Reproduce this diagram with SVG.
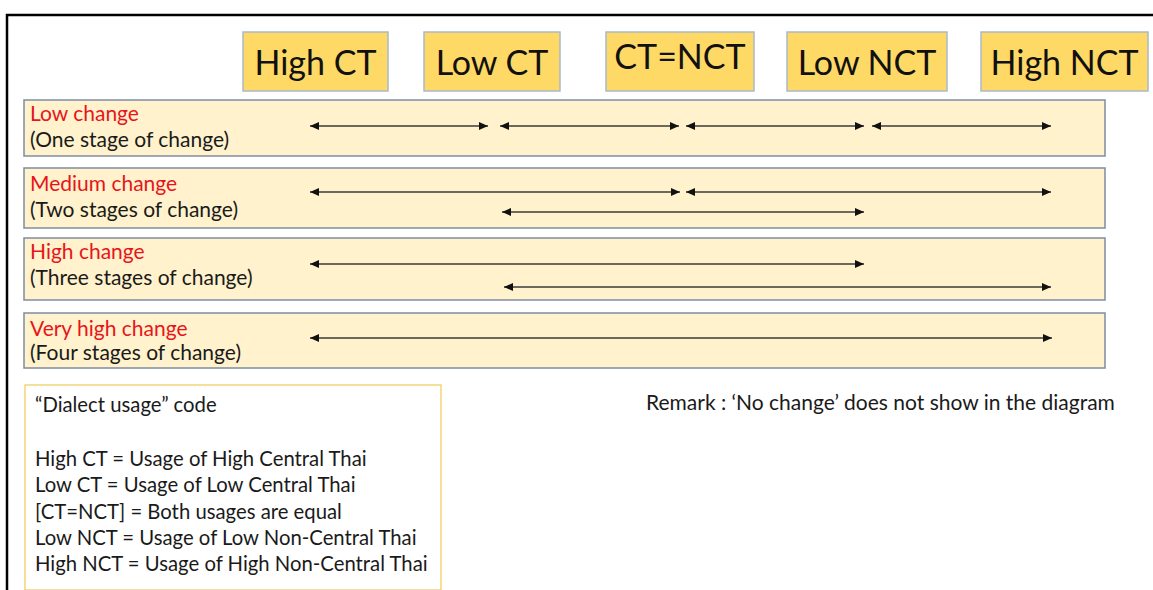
<svg xmlns="http://www.w3.org/2000/svg" width="1153" height="590" viewBox="0 0 1153 590">
  <style>
    .hdr rect { fill: #FFD966; stroke: #A9B9CC; stroke-width: 1.5; }
    .hdr text { font-family: Lato, "Liberation Sans", sans-serif; font-size: 34px; fill: #111; text-anchor: middle; }
    .band rect { fill: #FFF2CC; stroke: #7D8CA3; stroke-width: 1.5; }
    .band text { font-family: Lato, "Liberation Sans", sans-serif; font-size: 21px; fill: #1a1a1a; }
    .band text.lvl { fill: #E8141B; }
    .arrows line { stroke: #3a3a3a; stroke-width: 1.4; marker-start: url(#head-start); marker-end: url(#head-end); }
    .legend rect { fill: #ffffff; stroke: #EFCB55; stroke-width: 1.2; }
    .legend text { font-family: Lato, "Liberation Sans", sans-serif; font-size: 20.3px; fill: #1a1a1a; }
    .remark text { font-family: Lato, "Liberation Sans", sans-serif; font-size: 21px; fill: #1a1a1a; }
  </style>
  <defs>
    <marker id="head-end" markerUnits="userSpaceOnUse" markerWidth="10" markerHeight="8" refX="9" refY="4" orient="auto">
      <path d="M0,0 L9,4 L0,8 Z" fill="#111"/>
    </marker>
    <marker id="head-start" markerUnits="userSpaceOnUse" markerWidth="10" markerHeight="8" refX="0" refY="4" orient="auto">
      <path d="M9,0 L0,4 L9,8 Z" fill="#111"/>
    </marker>
  </defs>

  <rect x="0" y="0" width="1153" height="590" fill="#ffffff"/>
  <!-- page frame -->
  <path d="M7,590 L7,15 L1153,15" fill="none" stroke="#000" stroke-width="2.5"/>

  <!-- column headers -->
  <g id="high-ct" class="hdr"><rect x="243" y="32" width="145" height="59"/><text x="315.5" y="75">High CT</text></g>
  <g id="low-ct" class="hdr"><rect x="424" y="32" width="136" height="59"/><text x="492" y="75">Low CT</text></g>
  <g id="ct-nct" class="hdr"><rect x="606" y="32" width="148" height="59"/><text x="680" y="69">CT=NCT</text></g>
  <g id="low-nct" class="hdr"><rect x="787" y="32" width="160" height="59"/><text x="867" y="75">Low NCT</text></g>
  <g id="high-nct" class="hdr"><rect x="981" y="32" width="167" height="59"/><text x="1064.5" y="75">High NCT</text></g>

  <!-- change levels -->
  <g id="low-change" class="band">
    <rect x="24" y="100" width="1081" height="56"/>
    <text class="lvl" x="30" y="121">Low change</text>
    <text x="30" y="147">(One stage of change)</text>
  </g>
  <g id="medium-change" class="band">
    <rect x="24" y="168" width="1081" height="60"/>
    <text class="lvl" x="30" y="191">Medium change</text>
    <text x="30" y="217">(Two stages of change)</text>
  </g>
  <g id="high-change" class="band">
    <rect x="24" y="238" width="1081" height="62"/>
    <text class="lvl" x="30" y="259">High change</text>
    <text x="30" y="285">(Three stages of change)</text>
  </g>
  <g id="very-high-change" class="band">
    <rect x="24" y="313" width="1081" height="55"/>
    <text class="lvl" x="30" y="336">Very high change</text>
    <text x="30" y="360">(Four stages of change)</text>
  </g>

  <!-- stage spans -->
  <g id="connectors" class="arrows">
    <line x1="310" y1="126" x2="488" y2="126"/>
    <line x1="500" y1="126" x2="679" y2="126"/>
    <line x1="686" y1="126" x2="864" y2="126"/>
    <line x1="872" y1="126" x2="1051" y2="126"/>

    <line x1="310" y1="192" x2="680" y2="192"/>
    <line x1="686" y1="192" x2="1051" y2="192"/>
    <line x1="502" y1="212" x2="864" y2="212"/>

    <line x1="310" y1="264" x2="864" y2="264"/>
    <line x1="504" y1="287" x2="1051" y2="287"/>

    <line x1="310" y1="338" x2="1052" y2="338"/>
  </g>

  <!-- code legend -->
  <g id="legend" class="legend">
    <rect x="25" y="385" width="416" height="205"/>
    <text x="35" y="412">“Dialect usage” code</text>
    <text x="35" y="466">High CT = Usage of High Central Thai</text>
    <text x="35" y="492">Low CT = Usage of Low Central Thai</text>
    <text x="35" y="519">[CT=NCT] = Both usages are equal</text>
    <text x="35" y="545">Low NCT = Usage of Low Non-Central Thai</text>
    <text x="35" y="571">High NCT = Usage of High Non-Central Thai</text>
  </g>

  <g id="remark" class="remark">
    <text x="646" y="410">Remark : ‘No change’ does not show in the diagram</text>
  </g>
</svg>
